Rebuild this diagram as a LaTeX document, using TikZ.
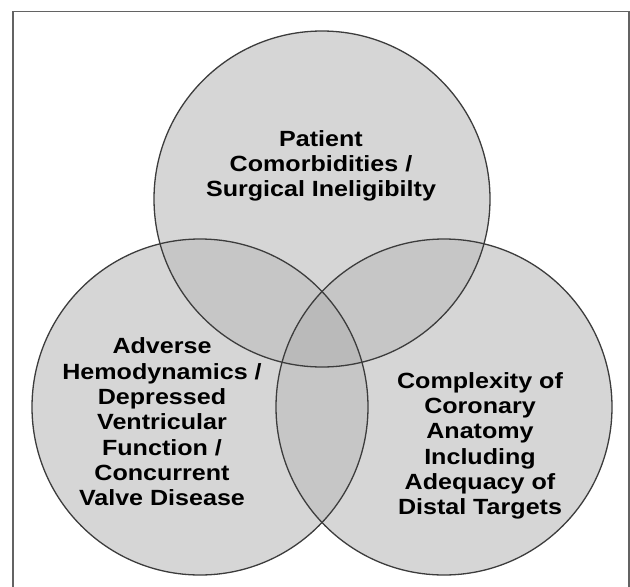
\documentclass[tikz,border=0pt]{standalone}
\usepackage{fontspec}
\setmainfont{Liberation Sans}
\definecolor{fillone}{HTML}{D6D6D6}
\definecolor{filltwo}{HTML}{C6C6C6}
\definecolor{fillthree}{HTML}{BABABA}
\definecolor{edgecol}{HTML}{3C3C3C}
\begin{document}
\begin{tikzpicture}[x=1pt,y=-1pt,
  setcircle/.style={circle, minimum size=336pt, inner sep=0pt, draw=edgecol, line width=1.3pt},
  setlabel/.style={align=center, xscale=1.14, font=\fontsize{22}{25.3}\selectfont\bfseries, text=black}]
\useasboundingbox (0,0) rectangle (630,587);
% outer frame
\draw[line width=1.6pt, color=edgecol!80] (13,600) -- (13,11.5) -- (629,11.5) -- (629,600);
% fills
\fill[fillone] (322,199) circle (168);
\fill[fillone] (200,407) circle (168);
\fill[fillone] (444,407) circle (168);
\begin{scope}
  \clip (322,199) circle (168);
  \fill[filltwo] (200,407) circle (168);
  \fill[filltwo] (444,407) circle (168);
\end{scope}
\begin{scope}
  \clip (200,407) circle (168);
  \fill[filltwo] (444,407) circle (168);
\end{scope}
\begin{scope}
  \clip (322,199) circle (168);
  \clip (200,407) circle (168);
  \fill[fillthree] (444,407) circle (168);
\end{scope}
% circle outlines
\node[setcircle] (top) at (322,199) {};
\node[setcircle] (left) at (200,407) {};
\node[setcircle] (right) at (444,407) {};
% texts
\node[setlabel] (toptext) at (321,166) {Patient\\Comorbidities /\\Surgical Ineligibilty};
\node[setlabel] (lefttext) at (162,422) {Adverse\\Hemodynamics /\\Depressed\\Ventricular\\Function /\\Concurrent\\Valve Disease};
\node[setlabel] (righttext) at (480,446) {Complexity of\\Coronary\\Anatomy\\Including\\Adequacy of\\Distal Targets};
\end{tikzpicture}
\end{document}
